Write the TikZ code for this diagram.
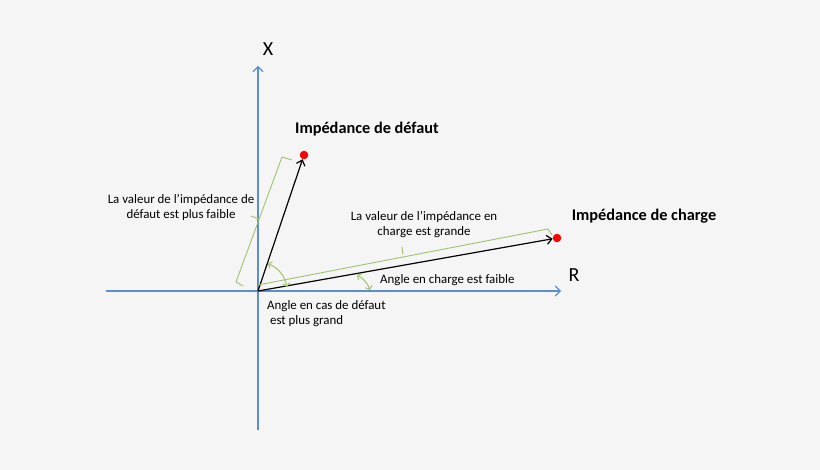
\documentclass[tikz,border=0pt]{standalone}
\usepackage{fontspec}
\setmainfont{Carlito}
\usetikzlibrary{arrows.meta,positioning}
\definecolor{axisblue}{RGB}{92,141,206}
\definecolor{bracegreen}{RGB}{160,194,110}
\definecolor{bggray}{RGB}{245,245,245}

\begin{document}
\begin{tikzpicture}[x=1pt,y=-1pt,
	axis/.style={draw=axisblue,line width=1.1pt,-{Straight Barb[length=5pt,width=10pt]}},
	vect/.style={draw=black,line width=1.2pt,-{Straight Barb[length=5pt,width=9pt]}},
	brace/.style={draw=bracegreen,line width=0.9pt,line join=round},
	anglearc/.style={draw=bracegreen,line width=1pt,{Straight Barb[length=3pt,width=7pt]}-{Straight Barb[length=3pt,width=7pt]}},
	dot/.style={circle,fill=red,inner sep=0pt,minimum size=8.5pt},
	note/.style={font=\fontsize{12.9}{15}\selectfont,align=center,inner sep=0pt},
	title/.style={font=\fontsize{16.3}{18}\selectfont\bfseries,inner sep=0pt},
	axlabel/.style={font=\fontsize{20}{22}\selectfont,inner sep=0pt}]
	\fill[bggray] (0,0) rectangle (820,470);
	\useasboundingbox (0,0) rectangle (820,470);
	% axes
	\coordinate (O) at (258,291);
	\coordinate (Rmin) at (106,291);
	\coordinate (Rmax) at (561,291);
	\coordinate (Xmin) at (258,430);
	\coordinate (Xmax) at (258,66);
	\draw[axis] (Rmin) -- (Rmax);
	\draw[axis] (Xmin) -- (Xmax);
	\node[axlabel] (xlab) at (268,49) {X};
	\node[axlabel] (rlab) at (574,275) {R};
	% impedances
	\node[dot] (fault) at (304,155) {};
	\node[dot] (load) at (557,238) {};
	\draw[vect] (O) -- (fault);
	\draw[vect] (O) -- (load);
	\node[title] (tfault) at (367,129) {Impédance de défaut};
	\node[title] (tload) at (644,216) {Impédance de charge};
	% brackets
	\draw[brace] (243,286) -- (236,282) -- (282,157) -- (292,160);
	\draw[brace] (259,219) -- (251,216);
	\draw[brace] (258,285) -- (548,229) -- (552,235);
	\draw[brace] (403,254.5) -- (402,247);
	\node[note] (nfault) at (181,207) {La valeur de l’impédance de\\défaut est plus faible};
	\node[note] (nload) at (424,225) {La valeur de l’impédance en\\charge est grande};
	% angles
	\coordinate (a1) at (357,275);
	\coordinate (a2) at (370,290);
	\draw[anglearc] (O) ++(-70:29) arc[start angle=-70,end angle=-8,radius=29];
	\draw[anglearc] (a1) to[bend left=20] (a2);
	\node[note,anchor=west] (nsmall) at (380,280) {Angle en charge est faible};
	\node[note,align=left,anchor=west] (nbig) at (267,313.5) {Angle en cas de défaut\\\ est plus grand};
\end{tikzpicture}
\end{document}
